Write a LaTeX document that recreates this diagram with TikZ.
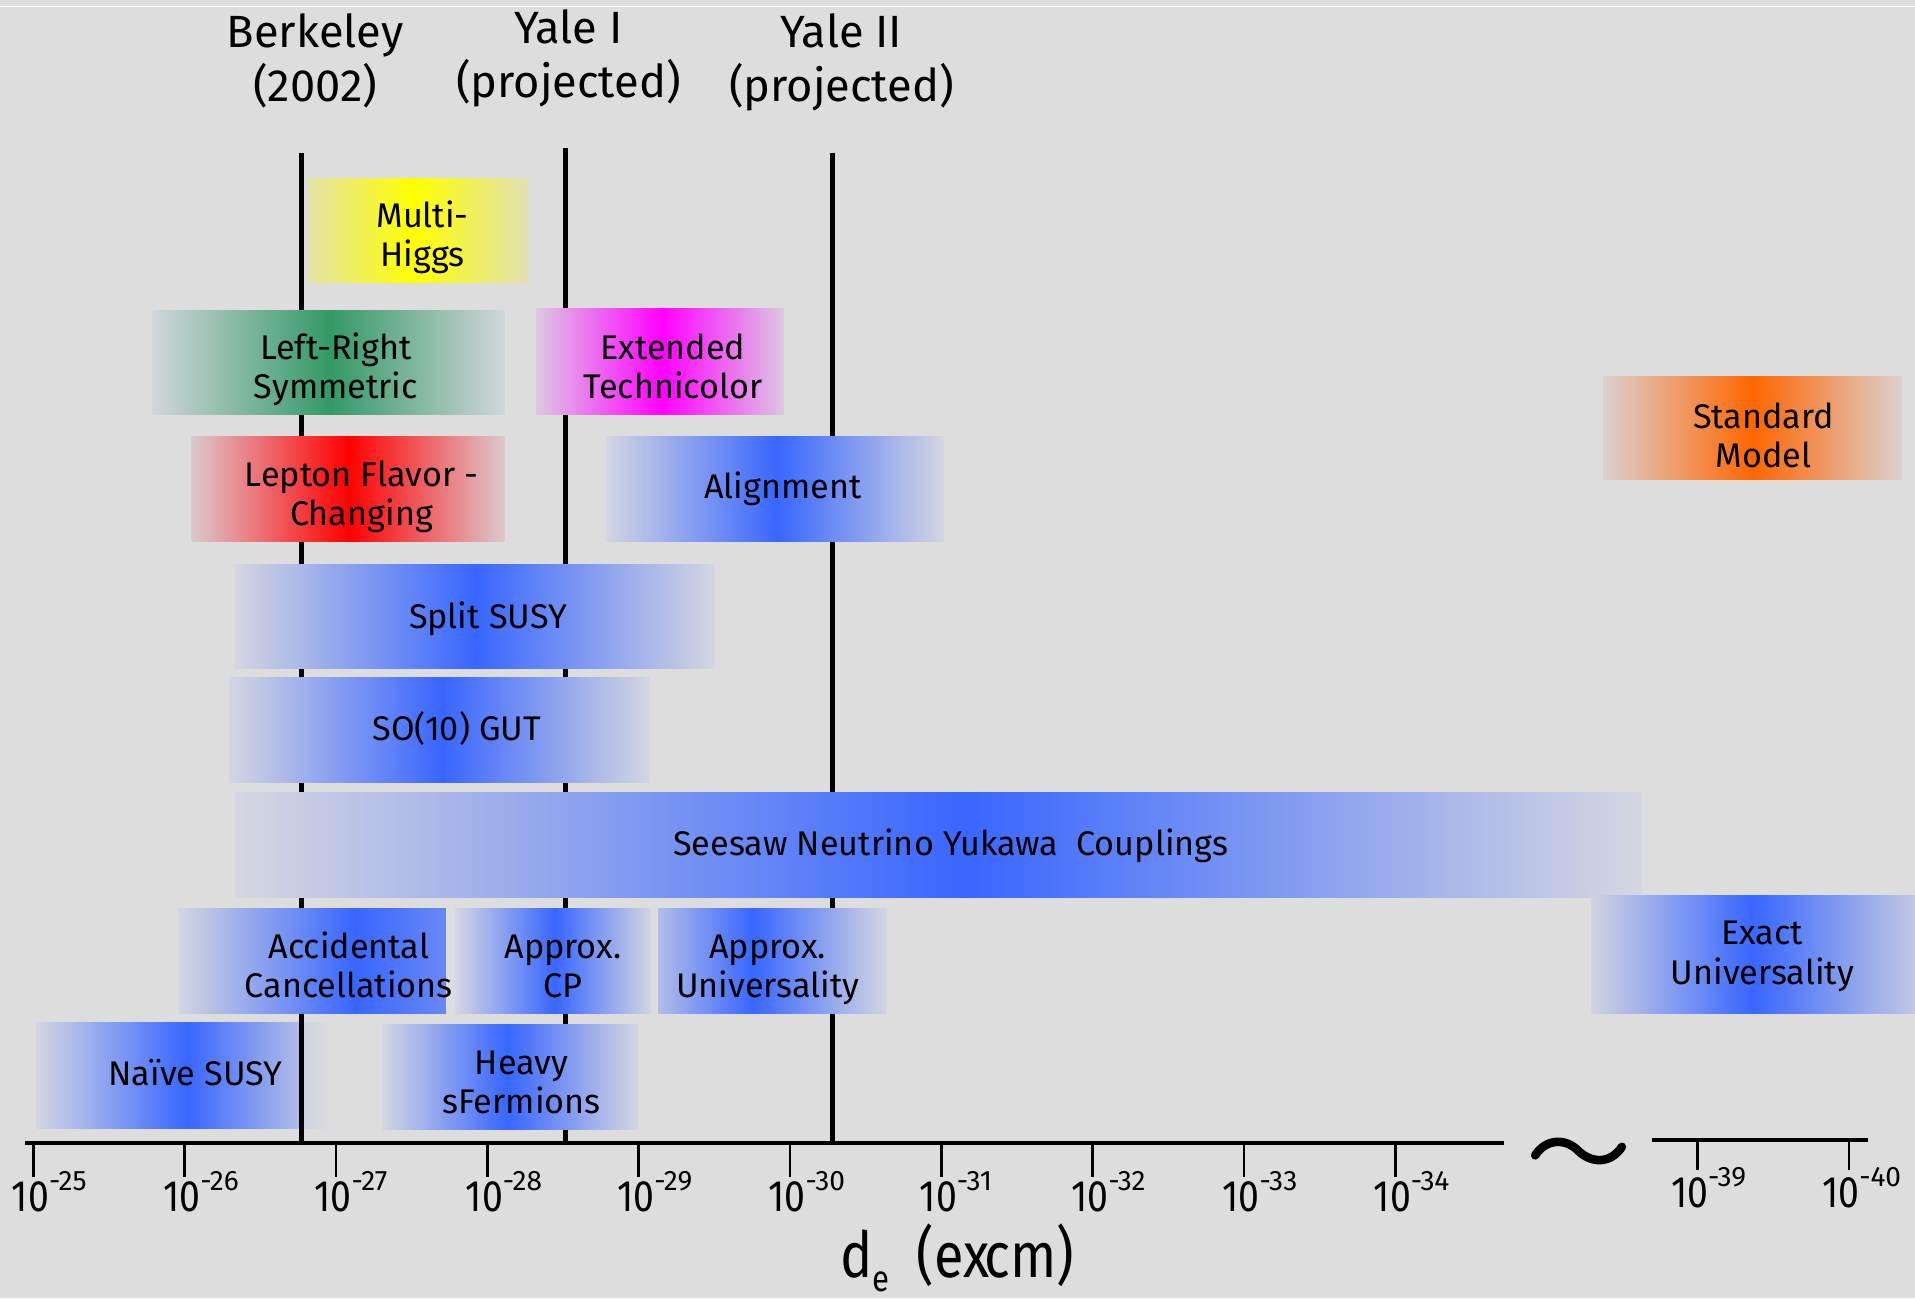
\documentclass[tikz,border=0pt]{standalone}
\usepackage{fontspec}
\setmainfont{Fira Sans}
\newfontfamily\labfont{Fira Sans}
\newfontfamily\condfont[FakeStretch=0.85]{Fira Sans}
\definecolor{bg}{RGB}{221,221,221}
\definecolor{eb}{RGB}{217,217,224}
\definecolor{cblue}{RGB}{56,102,255}
\definecolor{cgreen}{RGB}{51,153,102}
\definecolor{cred}{RGB}{255,0,0}
\definecolor{cmag}{RGB}{255,0,255}
\definecolor{cyellow}{RGB}{255,255,0}
\definecolor{corange}{RGB}{255,102,0}
\tikzset{
  vline/.style={line width=4pt, black},
  axisline/.style={line width=3pt, black},
  tickline/.style={line width=2.2pt, black},
  lab/.style={align=center, anchor=base, inner sep=0pt, font=\labfont\fontsize{28}{32}\selectfont},
  head/.style={align=center, anchor=base, inner sep=0pt, font=\labfont\fontsize{37}{44}\selectfont},
  ticklab/.style={anchor=base west, inner sep=0pt, font=\condfont\fontsize{36}{36}\selectfont},
}
% gradient band: x1, xpeak, x2, y1, y2, colour, left %, right %
\newcommand\gband[8]{%
  \shade[left color=#6!#7!eb, right color=#6] (#1,#4) rectangle ({#2+0.6},#5);
  \shade[left color=#6, right color=#6!#8!eb] (#2,#4) rectangle (#3,#5);
}
\newcommand\supx[1]{\raisebox{17.5pt}{\labfont\fontsize{23}{23}\selectfont -#1}}
\begin{document}
\begin{tikzpicture}[x=1pt,y=-1pt]
\useasboundingbox (0,0) rectangle (1568,1063);
\fill[bg] (0,0) rectangle (1568,1063);
\draw[white, line width=1.2pt] (0,5.5) -- (1568,5.5);

% Naive SUSY band (behind the Berkeley line)
\gband{30}{153}{245}{837.6}{924}{cblue}{3}{25}
\shade[left color=cblue!8!eb, right color=bg] (245,837.6) rectangle (271,924);

% experiment lines
\coordinate (berkT) at (247,125);  \coordinate (berkB) at (247,936);
\coordinate (yaleIT) at (463,121); \coordinate (yaleIB) at (463,936);
\coordinate (yaleIIT) at (682,125); \coordinate (yaleIIB) at (682,936);
\draw[vline] (berkT) -- (berkB);
\draw[vline] (yaleIT) -- (yaleIB);
\draw[vline] (yaleIIT) -- (yaleIIB);

% model bands
\gband{252}{338}{433}{146}{231}{cyellow}{25}{20}
\gband{125}{270}{413}{254}{339}{cgreen}{5}{5}
\gband{439}{542}{642}{253}{339}{cmag}{8}{8}
\gband{157}{285}{413}{357}{443}{cred}{8}{8}
\gband{496}{636}{773}{357}{443}{cblue}{3}{3}
\gband{1313}{1435}{1557}{308}{393}{corange}{8}{8}
\gband{193}{389}{585}{462}{547}{cblue}{3}{3}
\gband{188}{362}{532}{555}{641}{cblue}{3}{3}
\gband{193}{790}{1344}{648.5}{734.5}{cblue}{2}{2}
\gband{146}{290}{365}{744}{830}{cblue}{3}{70}
\gband{373}{454}{533}{744}{830}{cblue}{3}{3}
\gband{539}{616}{726}{744}{830}{cblue}{25}{3}
\gband{1303}{1435}{1568}{733}{830}{cblue}{5}{15}
\gband{313}{415}{522}{838.5}{924.5}{cblue}{3}{3}

% axis
\coordinate (axA) at (20.5,936);   \coordinate (axB) at (1231.5,936);
\coordinate (axC) at (1352.7,933.4); \coordinate (axD) at (1529.6,933.4);
\draw[axisline] (axA) -- (axB);
\draw[axisline] (axC) -- (axD);
\foreach \e [count=\i from 0] in {25,...,34} {
  \pgfmathsetmacro\tx{27.3+123.9*\i}
  \coordinate (tk\e a) at (\tx,934.5);
  \coordinate (tk\e b) at (\tx,963.5);
  \draw[tickline] (tk\e a) -- (tk\e b);
  \node[ticklab] (tl\e) at ({\tx-17.7},992) {10\kern0pt\supx{\e}};
}
\coordinate (tk39a) at (1390,932); \coordinate (tk39b) at (1390,958);
\coordinate (tk40a) at (1514,932); \coordinate (tk40b) at (1514,958);
\draw[tickline] (tk39a) -- (tk39b);
\draw[tickline] (tk40a) -- (tk40b);
\node[ticklab] (tl39) at (1368,989) {10\kern0pt\supx{39}};
\node[ticklab] (tl40) at (1492,989) {10\kern0pt\supx{40}};

% axis break
\draw[line width=7pt, line cap=round] (1257,946) .. controls (1266,932) and (1282,932) .. (1292,942) .. controls (1302,952) and (1318,954) .. (1328,939);

% axis title
\node[anchor=base west, inner sep=0pt] (xlab) at (688,1046)
  {\condfont\fontsize{52}{52}\selectfont d\raisebox{-11.5pt}{\fontsize{30}{30}\selectfont e}\kern22pt(ex\kern-4pt cm)};

% headers (anchor base = last line)
\node[head] (berk) at (258,83.3) {Berkeley\\(2002)};
\node[head] (yaleI) at (465.5,80) {Yale I\\(projected)};
\node[head] (yaleII) at (689,83) {Yale II\\(projected)};

% labels (anchor base = last line)
\node[lab] (multi) at (346,218) {Multi-\\Higgs};
\node[lab] (lr) at (275,326) {Left-Right\\Symmetric};
\node[lab] (etc) at (551,326) {Extended\\Technicolor};
\node[lab] (lfc) at (296,430) {Lepton Flavor -\\Changing};
\node[lab] (align) at (641,408) {Alignment};
\node[lab] (sm) at (1444,382.5) {Standard\\Model};
\node[lab] (split) at (399.5,514.2) {Split SUSY};
\node[lab] (so10) at (374,606.7) {SO(10) GUT};
\node[lab] (seesaw) at (778.5,700.6) {Seesaw Neutrino Yukawa\ \ Couplings};
\node[lab] (acc) at (285.6,816.4) {Accidental\\Cancellations};
\node[lab] (acp) at (461,816.4) {Approx.\\CP};
\node[lab] (au) at (628.5,816.4) {Approx.\\Universality};
\node[lab] (eu) at (1443,805.7) {Exact\\Universality};
\node[lab] (naive) at (160,888.5) {Naïve SUSY};
\node[lab] (heavy) at (427,911.5) {Heavy\\sFermions};
\end{tikzpicture}
\end{document}
